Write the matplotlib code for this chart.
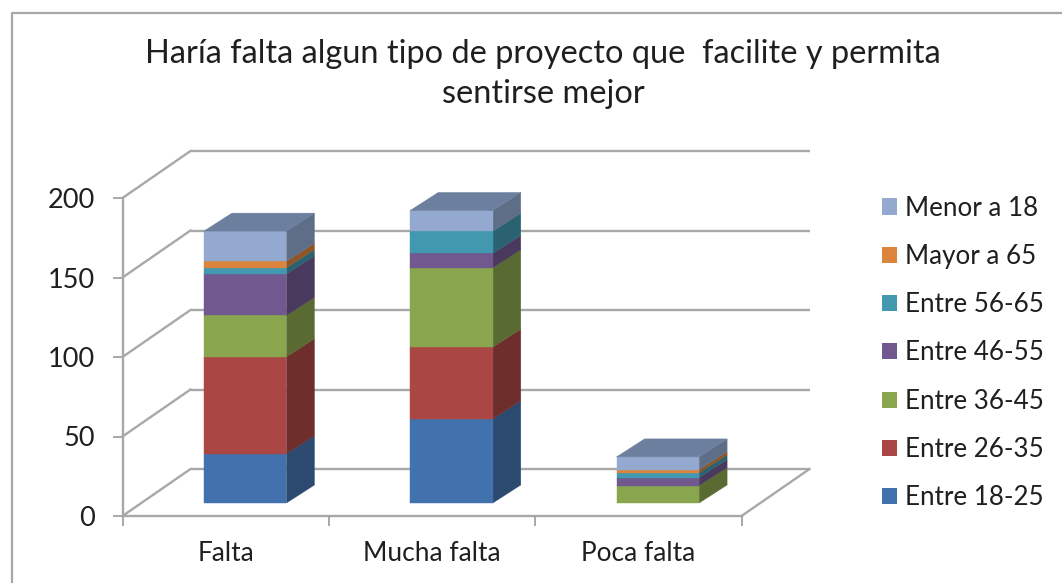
import matplotlib
matplotlib.use("Agg")
import matplotlib.pyplot as plt
from matplotlib.patches import Polygon, Patch
from matplotlib.lines import Line2D
from matplotlib.transforms import Affine2D

plt.rcParams['font.family'] = ['Lato', 'DejaVu Sans']

categories = ["Falta", "Mucha falta", "Poca falta"]
series = ["Entre 18-25", "Entre 26-35", "Entre 36-45", "Entre 46-55",
          "Entre 56-65", "Mayor a 65", "Menor a 18"]
entre_18_25 = [31, 53, 0]
entre_26_35 = [61, 45, 0]
entre_36_45 = [26, 50, 11]
entre_46_55 = [26, 9, 5]
entre_56_65 = [4, 14, 3]
mayor_65 = [4, 0, 2]
menor_18 = [19, 13, 8]
values = [entre_18_25, entre_26_35, entre_36_45, entre_46_55, entre_56_65, mayor_65, menor_18]
y_ticks = [0, 50, 100, 150, 200]

front = ["#4272AD", "#AA4643", "#89A54E", "#71588F", "#4198AF", "#DB843D", "#93A9CF"]
side = ["#2C4A70", "#6E2E2C", "#596B32", "#49395D", "#2A6272", "#8E5627", "#5F6E87"]
top_col = ["#4A6A94", "#8C4A48", "#74874E", "#5F5078", "#4A8294", "#B07A4A", "#6D7F9E"]
grid_col = "#A8A8A8"
text_col = "#1F1F1F"

W, H = 1062, 583
fig = plt.figure(figsize=(W / 100, H / 100), dpi=100, facecolor="white")

# chart frame
fig.add_artist(Line2D([12 / W, 12 / W, 1], [0, 1 - 13 / H, 1 - 13 / H],
                      transform=fig.transFigure, color=grid_col, lw=1.6))

ax_l, ax_r, ax_t, ax_b = 122.5, 741.5, 198, 516
ax = fig.add_axes([ax_l / W, 1 - ax_b / H, (ax_r - ax_l) / W, (ax_b - ax_t) / H])
ax.set_xlim(0, 3)
ax.set_ylim(0, 200)
ax.patch.set_visible(False)

wall = ax.transData + Affine2D().translate(68, 47)
bar_front = ax.transData + Affine2D().translate(19.5, 13)

# depth offsets in axes data units
px_x = 3 / (ax_r - ax_l)
px_y = 200 / (ax_b - ax_t)
bar_dx, bar_dy = 28 * px_x, 18 * px_y
wall_dx, wall_dy = 68 * px_x, 47 * px_y

# back wall grid and floor
for v in y_ticks:
    ax.plot([0, 3], [v, v], transform=wall, color=grid_col, lw=1.7, clip_on=False,
            zorder=1, solid_capstyle="butt")
    ax.plot([0, wall_dx], [v, v + wall_dy], color=grid_col, lw=1.7, clip_on=False, zorder=1)
ax.plot([3, 3 + wall_dx], [0, wall_dy], color=grid_col, lw=1.7, clip_on=False, zorder=1)

# stacked 3-D bars
bar_w = 0.40
z = 3
for c in range(len(categories)):
    x0 = c + 0.5 - bar_w / 2
    x1 = c + 0.5 + bar_w / 2
    base = 0
    top_s = max(s for s in range(len(series)) if values[s][c] > 0)
    for s in range(len(series)):
        v = values[s][c]
        if v <= 0:
            continue
        t = base + v
        ax.add_patch(Polygon([(x1, base), (x1 + bar_dx, base + bar_dy),
                              (x1 + bar_dx, t + bar_dy), (x1, t)],
                             closed=True, fc=side[s], ec=side[s], lw=0.3,
                             transform=bar_front, clip_on=False, zorder=z))
        ax.add_patch(Polygon([(x0, base), (x1, base), (x1, t), (x0, t)],
                             closed=True, fc=front[s], ec=front[s], lw=0.3,
                             transform=bar_front, clip_on=False, zorder=z))
        if s == top_s:
            ax.add_patch(Polygon([(x0, t), (x1, t), (x1 + bar_dx, t + bar_dy),
                                  (x0 + bar_dx, t + bar_dy)],
                                 closed=True, fc=top_col[s], ec=top_col[s], lw=0.3,
                                 transform=bar_front, clip_on=False, zorder=z))
        base = t

# axes
for sp in ("top", "right"):
    ax.spines[sp].set_visible(False)
for sp in ("left", "bottom"):
    ax.spines[sp].set_color(grid_col)
    ax.spines[sp].set_linewidth(1.7)
ax.set_yticks(y_ticks)
ax.set_yticklabels([str(v) for v in y_ticks], fontsize=19.5, color=text_col)
ax.tick_params(axis="y", length=7.5, width=1.4, color=grid_col, pad=12.5)
ax.set_xticks([0, 1, 2, 3])
ax.set_xticklabels([])
ax.tick_params(axis="x", which="major", length=7.5, width=1.4, color=grid_col)
ax.set_xticks([0.5, 1.5, 2.5], minor=True)
ax.set_xticklabels(categories, minor=True, fontsize=18.9, color=text_col)
ax.tick_params(axis="x", which="minor", length=0, pad=18)

# title
fig.text(543 / W, 1 - 74 / H,
         "Haría falta algun tipo de proyecto que  facilite y permita\nsentirse mejor",
         ha="center", va="center", fontsize=23.4, color=text_col, linespacing=1.42)

# legend
handles = [Patch(fc=front[s], ec="none", label=series[s]) for s in reversed(range(len(series)))]
fig.legend(handles=handles, loc="center left", bbox_to_anchor=(882 / W, 1 - 353 / H),
           frameon=False, fontsize=18.7, handlelength=0.58, handleheight=0.58,
           handletextpad=0.31, labelspacing=0.896, labelcolor=text_col,
           borderpad=0, borderaxespad=0)

fig.savefig("out.png", dpi=100)
